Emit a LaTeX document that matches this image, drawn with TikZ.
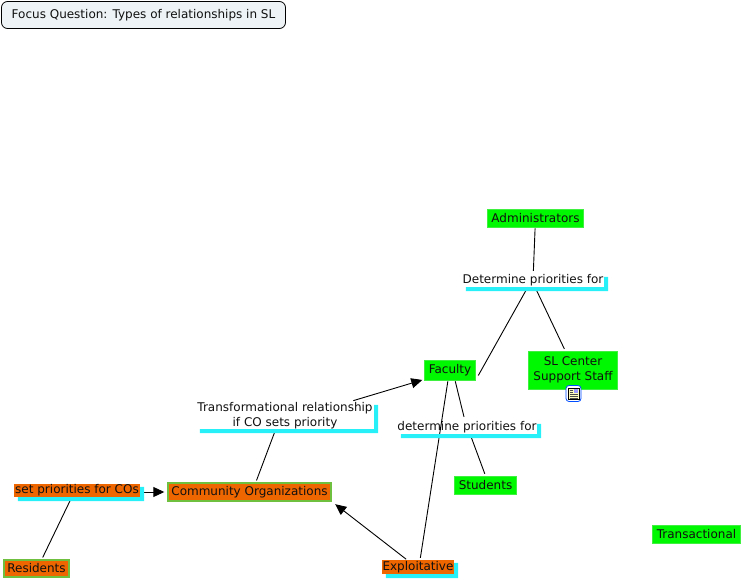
\documentclass[tikz,border=0pt]{standalone}
\usepackage{fontspec}
\setmainfont{DejaVu Sans}
\usepackage{xcolor}
\usetikzlibrary{arrows.meta, backgrounds, calc}
\definecolor{vif}{HTML}{00F800}
\definecolor{bordvif}{HTML}{40F040}
\definecolor{orange}{HTML}{EE6600}
\definecolor{bordorange}{HTML}{70C040}
\definecolor{cyanvif}{HTML}{28F0F8}
\definecolor{brume}{HTML}{EEF4F6}
\definecolor{encre}{HTML}{101010}
\tikzset{
  concept/.style={fill=vif, draw=bordvif, line width=0.6pt, inner sep=0pt, align=center, font=\fontsize{12}{15}\selectfont, text=encre},
  communaute/.style={fill=orange, draw=bordorange, line width=1.4pt, inner sep=0pt, font=\fontsize{12}{15}\selectfont, text=encre},
  lien/.style={inner sep=0pt, align=center, font=\fontsize{12}{15}\selectfont, text=encre},
  lienorange/.style={fill=orange, inner sep=0pt, font=\fontsize{12}{15}\selectfont, text=encre},
  fleche/.style={line width=0.9pt, -{Triangle[length=11pt,width=10pt]}},
  trait/.style={line width=0.9pt}
}
\newcommand{\bande}[1]{\fill[cyanvif] ($(#1.south west)+(4,0)$) -- ($(#1.south west)+(4,4)$) -- ($(#1.south east)+(4,4)$) -- ($(#1.north east)+(4,3)$) -- ($(#1.north east)+(0,3)$) -- (#1.south east) -- cycle;}
\begin{document}
\begin{tikzpicture}[x=1pt, y=-1pt]
    \useasboundingbox (0,0) rectangle (742,580);

    % Question
    \node[fill=brume, draw=black, line width=0.8pt, rounded corners=6pt, minimum width=284pt, minimum height=27pt, inner sep=0pt, font=\fontsize{12}{15}\selectfont, text=encre] (focus) at (143.5,15) {Focus Question: Types of relationships in SL};

    % Concepts
    \node[concept, minimum width=96pt, minimum height=18pt] (admin) at (535.5,218) {Administrators};
    \node[concept, minimum width=51pt, minimum height=20pt] (faculty) at (450,370) {Faculty};
    \node[concept, minimum width=89pt, minimum height=38pt] (support) at (573,370) {SL Center\\ Support Staff};
    \node[concept, minimum width=62pt, minimum height=18pt] (students) at (485.5,485) {Students};
    \node[concept, minimum width=88pt, minimum height=18pt] (transac) at (696.5,534) {Transactional};
    \node[communaute, minimum width=163pt, minimum height=18pt] (commu) at (249.5,492) {Community Organizations};
    \node[communaute, minimum width=65pt, minimum height=17pt] (residents) at (36.5,568.5) {Residents};

    % Liens
    \node[lien, minimum width=142pt, minimum height=13pt] (detA) at (533,280.5) {Determine priorities for};
    \node[lien, minimum width=140pt, minimum height=13pt] (detB) at (467,427.5) {determine priorities for};
    \node[lien, minimum width=178pt, minimum height=27pt] (transfo) at (285,415.5) {Transformational relationship\\ if CO sets priority};
    \node[lienorange, minimum width=126pt, minimum height=13pt] (setprio) at (77,490.5) {set priorities for COs};
    \node[lienorange, minimum width=72pt, minimum height=14pt] (exploit) at (418,567) {Exploitative};
    \bande{detA}
    \bande{detB}
    \bande{transfo}
    \bande{setprio}
    \bande{exploit}

    % Icone
    \node[fill=white, draw=blue!70!cyan, line width=0.8pt, rounded corners=3pt, minimum width=15pt, minimum height=16pt, inner sep=0pt] (icone) at (573.5,393.5) {};
    \fill[yellow!25] (568,388) rectangle (579,399);
    \draw[black, line width=0.5pt] (568,388) rectangle (579,399);
    \fill[blue!40] (574,389) rectangle (578,392.5);
    \foreach \ligne in {390,392,394,396,398}
      \draw[black!70, line width=0.6pt] (569.5,\ligne) -- (573,\ligne);
    \foreach \ligne in {394,396,398}
      \draw[black!70, line width=0.6pt] (573,\ligne) -- (578,\ligne);

    % Connecteurs
    \begin{scope}[on background layer]
      \draw[trait, shorten <=1pt, shorten >=3pt] (admin) -- (detA);
      \draw[trait] (detA.232) -- ($(faculty.-12)+(2.5,0)$);
      \draw[trait, shorten >=2pt] (detA.-73) -- (support.112);
      \draw[trait, shorten <=1pt, shorten >=4pt] (faculty.-64) -- (detB.107);
      \draw[trait, shorten >=2pt] (detB.-65) -- (students.north);
      \draw[trait, shorten <=1pt, shorten >=2pt] (faculty.-101) -- (exploit.74);
      \draw[fleche, shorten <=1pt] (exploit.147) -- ($(commu.south east)+(3.5,2.5)$);
      \draw[trait, shorten >=2pt] (transfo.236) -- (commu.57);
      \draw[fleche, shorten <=4pt, shorten >=2pt] (transfo.12) -- (faculty.200);
      \draw[fleche, shorten >=3pt] (setprio.east |- commu.west) -- (commu.west);
      \draw[trait, shorten >=2pt] (setprio.232) -- (residents.60);
    \end{scope}
\end{tikzpicture}
\end{document}
